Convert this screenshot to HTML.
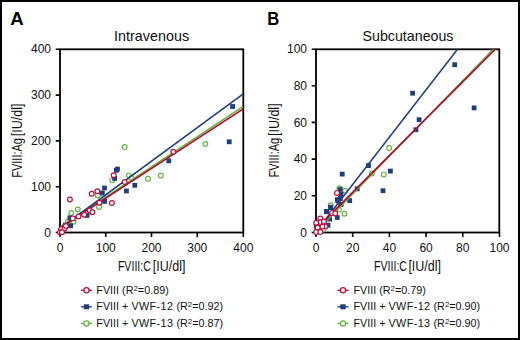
<!DOCTYPE html>
<html><head><meta charset="utf-8"><title>FVIII scatter</title><style>
html,body{margin:0;padding:0;background:#fff;}
svg{display:block;}
text{font-family:"Liberation Sans",sans-serif;fill:#111;}
.tl{font-size:12px;}
.pl{font-size:18px;font-weight:bold;fill:#000;}
.ti{font-size:14.6px;}
.at{font-size:14.2px;}
.lg{font-size:10.8px;}
</style></head><body>
<svg width="520" height="340" viewBox="0 0 520 340">
<rect x="0" y="0" width="520" height="340" fill="#fff"/>
<clipPath id="ca"><rect x="60" y="49.3" width="183.3" height="183.2"/></clipPath>
<rect x="60" y="49.3" width="183.3" height="183.2" fill="none" stroke="#000" stroke-width="1.8"/>
<path d="M60 232.5V237.0M105.75 232.5V237.0M151.5 232.5V237.0M197.25 232.5V237.0M243.3 232.5V237.0M60 232.5H55.7M60 186.7H55.7M60 140.9H55.7M60 95.1H55.7M60 49.3H55.7" stroke="#000" stroke-width="1.6" fill="none"/>
<text x="60" y="252.3" text-anchor="middle" class="tl">0</text>
<text x="105.75" y="252.3" text-anchor="middle" class="tl">100</text>
<text x="151.5" y="252.3" text-anchor="middle" class="tl">200</text>
<text x="197.25" y="252.3" text-anchor="middle" class="tl">300</text>
<text x="243.3" y="252.3" text-anchor="middle" class="tl">400</text>
<text x="51" y="236.6" text-anchor="end" class="tl">0</text>
<text x="51" y="190.8" text-anchor="end" class="tl">100</text>
<text x="51" y="145.0" text-anchor="end" class="tl">200</text>
<text x="51" y="99.2" text-anchor="end" class="tl">300</text>
<text x="51" y="53.4" text-anchor="end" class="tl">400</text>
<g fill="#fff" stroke="#66b545" stroke-width="1.2"><circle cx="205.3" cy="144.1" r="2.4"/><circle cx="124.7" cy="147.1" r="2.4"/><circle cx="160.8" cy="175.6" r="2.4"/><circle cx="148" cy="178.8" r="2.4"/><circle cx="129" cy="175.4" r="2.4"/><circle cx="131.5" cy="177.9" r="2.4"/><circle cx="112.3" cy="180.3" r="2.4"/><circle cx="97.6" cy="195.5" r="2.4"/><circle cx="99" cy="206.9" r="2.4"/><circle cx="71.2" cy="213.1" r="2.4"/><circle cx="77.8" cy="209.6" r="2.4"/><circle cx="73.6" cy="221.7" r="2.4"/><circle cx="67.9" cy="221.7" r="2.4"/><circle cx="63" cy="229" r="2.4"/></g>
<g fill="#1f3e7e"><rect x="230.2" y="104.1" width="4.8" height="4.8"/><rect x="226.8" y="139.4" width="4.8" height="4.8"/><rect x="166.4" y="158.4" width="4.8" height="4.8"/><rect x="132.4" y="182.9" width="4.8" height="4.8"/><rect x="124.0" y="188.6" width="4.8" height="4.8"/><rect x="113.9" y="167.9" width="4.8" height="4.8"/><rect x="115.1" y="166.7" width="4.8" height="4.8"/><rect x="112.2" y="176.0" width="4.8" height="4.8"/><rect x="102.1" y="185.6" width="4.8" height="4.8"/><rect x="99.9" y="190.6" width="4.8" height="4.8"/><rect x="102.2" y="199.0" width="4.8" height="4.8"/><rect x="84.7" y="213.0" width="4.8" height="4.8"/><rect x="67.5" y="215.4" width="4.8" height="4.8"/><rect x="62.9" y="222.6" width="4.8" height="4.8"/><rect x="68.2" y="223.3" width="4.8" height="4.8"/><rect x="58.6" y="228.6" width="4.8" height="4.8"/></g>
<g clip-path="url(#ca)" fill="none" stroke-width="1.55">
<line x1="60" y1="227.3" x2="243.3" y2="106.3" stroke="#5fb23a"/>
<line x1="60" y1="228.3" x2="243.3" y2="93.8" stroke="#1f3e7e"/>
<line x1="60" y1="227.9" x2="243.3" y2="108.9" stroke="#b5002d"/>
</g>
<g fill="#fff" stroke="#bf1040" stroke-width="1.2"><circle cx="69.9" cy="199.5" r="2.4"/><circle cx="91.7" cy="193.7" r="2.4"/><circle cx="97.3" cy="191.2" r="2.4"/><circle cx="99.5" cy="202.8" r="2.4"/><circle cx="111.9" cy="203.1" r="2.4"/><circle cx="113.7" cy="175.2" r="2.4"/><circle cx="124.7" cy="182" r="2.4"/><circle cx="173.3" cy="151.7" r="2.4"/><circle cx="89.7" cy="210.5" r="2.4"/><circle cx="92.4" cy="212.2" r="2.4"/><circle cx="84.2" cy="214.7" r="2.4"/><circle cx="78.5" cy="216.5" r="2.4"/><circle cx="72.8" cy="218.4" r="2.4"/><circle cx="61.3" cy="229" r="2.4"/><circle cx="60" cy="232.3" r="2.4"/><circle cx="64.6" cy="228.4" r="2.4"/><circle cx="62" cy="232.3" r="2.4"/><circle cx="66" cy="226" r="2.4"/></g>
<clipPath id="cb"><rect x="316" y="49.3" width="183.3" height="183.2"/></clipPath>
<rect x="316" y="49.3" width="183.3" height="183.2" fill="none" stroke="#000" stroke-width="1.8"/>
<path d="M316 232.5V237.0M352.7 232.5V237.0M389.4 232.5V237.0M426.1 232.5V237.0M462.8 232.5V237.0M499.5 232.5V237.0M316 232.5H311.7M316 195.8H311.7M316 159.1H311.7M316 122.4H311.7M316 85.7H311.7M316 49.3H311.7" stroke="#000" stroke-width="1.6" fill="none"/>
<text x="316" y="252.3" text-anchor="middle" class="tl">0</text>
<text x="352.7" y="252.3" text-anchor="middle" class="tl">20</text>
<text x="389.4" y="252.3" text-anchor="middle" class="tl">40</text>
<text x="426.1" y="252.3" text-anchor="middle" class="tl">60</text>
<text x="462.8" y="252.3" text-anchor="middle" class="tl">80</text>
<text x="499.5" y="252.3" text-anchor="middle" class="tl">100</text>
<text x="307" y="236.6" text-anchor="end" class="tl">0</text>
<text x="307" y="199.9" text-anchor="end" class="tl">20</text>
<text x="307" y="163.2" text-anchor="end" class="tl">40</text>
<text x="307" y="126.5" text-anchor="end" class="tl">60</text>
<text x="307" y="89.8" text-anchor="end" class="tl">80</text>
<text x="307" y="53.4" text-anchor="end" class="tl">100</text>
<g fill="#fff" stroke="#66b545" stroke-width="1.2"><circle cx="389.2" cy="148.1" r="2.4"/><circle cx="371.9" cy="173.5" r="2.4"/><circle cx="383.7" cy="174.4" r="2.4"/><circle cx="339.4" cy="188.2" r="2.4"/><circle cx="345.1" cy="190.8" r="2.4"/><circle cx="330.7" cy="205.2" r="2.4"/><circle cx="338.9" cy="209.4" r="2.4"/><circle cx="344.4" cy="213.8" r="2.4"/><circle cx="323.4" cy="229.4" r="2.4"/></g>
<g fill="#1f3e7e"><rect x="452.3" y="62.3" width="4.8" height="4.8"/><rect x="410.2" y="90.8" width="4.8" height="4.8"/><rect x="471.7" y="105.5" width="4.8" height="4.8"/><rect x="416.7" y="117.3" width="4.8" height="4.8"/><rect x="413.5" y="127.3" width="4.8" height="4.8"/><rect x="366.1" y="163.2" width="4.8" height="4.8"/><rect x="388.0" y="168.7" width="4.8" height="4.8"/><rect x="380.6" y="188.3" width="4.8" height="4.8"/><rect x="339.8" y="171.7" width="4.8" height="4.8"/><rect x="354.8" y="186.5" width="4.8" height="4.8"/><rect x="337.8" y="187.1" width="4.8" height="4.8"/><rect x="338.6" y="192.0" width="4.8" height="4.8"/><rect x="335.0" y="197.2" width="4.8" height="4.8"/><rect x="338.0" y="196.1" width="4.8" height="4.8"/><rect x="347.3" y="198.2" width="4.8" height="4.8"/><rect x="338.6" y="201.8" width="4.8" height="4.8"/><rect x="328.3" y="205.4" width="4.8" height="4.8"/><rect x="324.1" y="209.0" width="4.8" height="4.8"/><rect x="335.4" y="198.6" width="4.8" height="4.8"/><rect x="338.5" y="202.2" width="4.8" height="4.8"/><rect x="328.2" y="204.8" width="4.8" height="4.8"/><rect x="324.1" y="209.4" width="4.8" height="4.8"/><rect x="334.9" y="215.1" width="4.8" height="4.8"/><rect x="327.2" y="216.7" width="4.8" height="4.8"/><rect x="325.6" y="222.8" width="4.8" height="4.8"/><rect x="313.8" y="223.9" width="4.8" height="4.8"/></g>
<g clip-path="url(#cb)" fill="none" stroke-width="1.55">
<line x1="316" y1="231.81" x2="498.1" y2="44.25" stroke="#5fb23a"/>
<line x1="316" y1="231.81" x2="462.4" y2="42.95" stroke="#1f3e7e"/>
<line x1="316" y1="229.22" x2="500.1" y2="44.38" stroke="#b5002d"/>
</g>
<g fill="#fff" stroke="#bf1040" stroke-width="1.2"><circle cx="337" cy="192.9" r="2.4"/><circle cx="332.1" cy="212.9" r="2.4"/><circle cx="335.2" cy="213.4" r="2.4"/><circle cx="320.3" cy="218.5" r="2.4"/><circle cx="316.2" cy="222.7" r="2.4"/><circle cx="320.8" cy="222.1" r="2.4"/><circle cx="323.9" cy="221.6" r="2.4"/><circle cx="325.4" cy="226.6" r="2.4"/><circle cx="322.4" cy="226.6" r="2.4"/><circle cx="317.7" cy="227.8" r="2.4"/><circle cx="316.2" cy="232.1" r="2.4"/><circle cx="320.3" cy="232.1" r="2.4"/></g>
<text x="10.3" y="25.4" class="pl" textLength="13.4" lengthAdjust="spacingAndGlyphs">A</text>
<text x="267.2" y="25.4" class="pl" textLength="12" lengthAdjust="spacingAndGlyphs">B</text>
<text x="151.6" y="41.2" text-anchor="middle" class="ti" textLength="75" lengthAdjust="spacingAndGlyphs">Intravenous</text>
<text x="408" y="41.2" text-anchor="middle" class="ti" textLength="91" lengthAdjust="spacingAndGlyphs">Subcutaneous</text>
<text x="117.9" y="271.2" class="at" textLength="33.0" lengthAdjust="spacingAndGlyphs">FVIII:C</text><text x="152.8" y="271.2" class="at" textLength="32.6" lengthAdjust="spacingAndGlyphs">[IU/dl]</text>
<text x="374.0" y="271.2" class="at" textLength="33.0" lengthAdjust="spacingAndGlyphs">FVIII:C</text><text x="408.4" y="271.2" class="at" textLength="32.6" lengthAdjust="spacingAndGlyphs">[IU/dl]</text>
<text transform="translate(22.4 177.8) rotate(-90)" class="at" textLength="39.8" lengthAdjust="spacingAndGlyphs">FVIII:Ag</text><text transform="translate(22.4 136.2) rotate(-90)" class="at" textLength="32.6" lengthAdjust="spacingAndGlyphs">[IU/dl]</text>
<text transform="translate(279.1 177.6) rotate(-90)" class="at" textLength="39.8" lengthAdjust="spacingAndGlyphs">FVIII:Ag</text><text transform="translate(279.1 136.0) rotate(-90)" class="at" textLength="32.6" lengthAdjust="spacingAndGlyphs">[IU/dl]</text>
<line x1="81" y1="290.3" x2="92" y2="290.3" stroke="#b5002d" stroke-width="1.3"/>
<circle cx="86.5" cy="290.3" r="2.6" fill="#fff" stroke="#bf1040" stroke-width="1.3"/>
<text x="96.3" y="293.6" class="lg">FVIII (R<tspan font-size="7.8" dy="-2.8">2</tspan><tspan dy="2.8">=0.89)</tspan></text>
<line x1="81" y1="306.8" x2="92" y2="306.8" stroke="#1f3e7e" stroke-width="1.3"/>
<rect x="83.8" y="304.3" width="5.4" height="5" fill="#1f3e7e"/>
<text x="96.3" y="310.1" class="lg">FVIII + <tspan letter-spacing="0.4">VWF-12</tspan> (R<tspan font-size="7.8" dy="-2.8">2</tspan><tspan dy="2.8">=0.92)</tspan></text>
<line x1="81" y1="323.4" x2="92" y2="323.4" stroke="#5fb23a" stroke-width="1.3"/>
<circle cx="86.5" cy="323.4" r="2.6" fill="#fff" stroke="#66b545" stroke-width="1.3"/>
<text x="96.3" y="326.7" class="lg">FVIII + <tspan letter-spacing="0.4">VWF-13</tspan> (R<tspan font-size="7.8" dy="-2.8">2</tspan><tspan dy="2.8">=0.87)</tspan></text>
<line x1="337.5" y1="290.3" x2="348.5" y2="290.3" stroke="#b5002d" stroke-width="1.3"/>
<circle cx="343.0" cy="290.3" r="2.6" fill="#fff" stroke="#bf1040" stroke-width="1.3"/>
<text x="353.4" y="293.6" class="lg">FVIII (R<tspan font-size="7.8" dy="-2.8">2</tspan><tspan dy="2.8">=0.79)</tspan></text>
<line x1="337.5" y1="306.8" x2="348.5" y2="306.8" stroke="#1f3e7e" stroke-width="1.3"/>
<rect x="340.3" y="304.3" width="5.4" height="5" fill="#1f3e7e"/>
<text x="353.4" y="310.1" class="lg">FVIII + <tspan letter-spacing="0.4">VWF-12</tspan> (R<tspan font-size="7.8" dy="-2.8">2</tspan><tspan dy="2.8">=0.90)</tspan></text>
<line x1="337.5" y1="323.4" x2="348.5" y2="323.4" stroke="#5fb23a" stroke-width="1.3"/>
<circle cx="343.0" cy="323.4" r="2.6" fill="#fff" stroke="#66b545" stroke-width="1.3"/>
<text x="353.4" y="326.7" class="lg">FVIII + <tspan letter-spacing="0.4">VWF-13</tspan> (R<tspan font-size="7.8" dy="-2.8">2</tspan><tspan dy="2.8">=0.90)</tspan></text>
<rect x="1" y="1" width="518" height="338" fill="none" stroke="#000" stroke-width="2"/>
</svg>
</body></html>
